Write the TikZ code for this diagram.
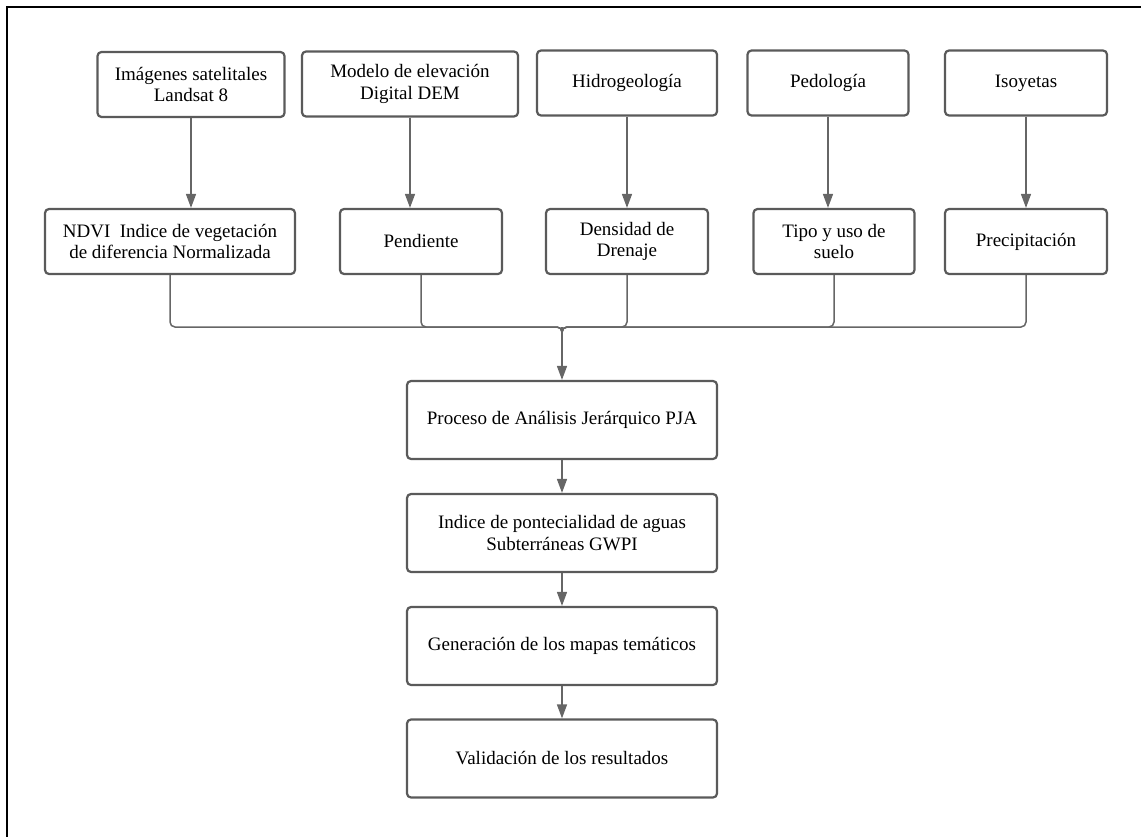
\documentclass[tikz,border=0pt]{standalone}
\usepackage{fontspec}
\setmainfont{Liberation Serif}
\newfontfamily\boxfont{Liberation Serif}
\usetikzlibrary{arrows.meta}
\definecolor{boxline}{HTML}{5A5A5A}
\definecolor{conline}{HTML}{666666}
\tikzset{
  box/.style={draw=boxline, line width=2.2pt, rounded corners=4pt, inner sep=0pt,
    align=center, font=\boxfont\fontsize{19}{21.5}\selectfont, text=black, minimum height=65pt},
  con/.style={draw=conline, line width=1.5pt},
  arr/.style={con, -{Triangle[length=14pt,width=10pt]}},
}
\begin{document}
\begin{tikzpicture}[x=1pt,y=-1pt]
\useasboundingbox (0,0) rectangle (1141,837);
\draw[black, line width=1.3pt] (7,845) -- (7,7) -- (1150,7);
% top row
\node[box, minimum width=187pt] (t1) at (191,84.5) {Imágenes satelitales\\Landsat 8};
\node[box, minimum width=216pt] (t2) at (410,84) {Modelo de elevación\\Digital DEM};
\node[box, minimum width=180pt] (t3) at (627,83) {Hidrogeología};
\node[box, minimum width=161pt] (t4) at (828,83) {Pedología};
\node[box, minimum width=162pt] (t5) at (1026,83) {Isoyetas};
% second row
\node[box, minimum width=250pt] (b1) at (170,241.5) {NDVI\ \ Indice de vegetación\\de diferencia Normalizada};
\node[box, minimum width=162pt] (b2) at (421,241.5) {Pendiente};
\node[box, minimum width=162pt] (b3) at (627,241.5) {Densidad de\\Drenaje};
\node[box, minimum width=161pt] (b4) at (834,241.5) {Tipo y uso de\\suelo};
\node[box, minimum width=162pt] (b5) at (1026,241.5) {Precipitación};
% process column
\node[box, minimum width=310pt, minimum height=78pt] (p1) at (562,420) {Proceso de Análisis Jerárquico PJA};
\node[box, minimum width=310pt, minimum height=78pt] (p2) at (562,533) {Indice de pontecialidad de aguas\\Subterráneas GWPI};
\node[box, minimum width=310pt, minimum height=78pt] (p3) at (562,646) {Generación de los mapas temáticos};
\node[box, minimum width=310pt, minimum height=78pt] (p4) at (562,758.5) {Validación de los resultados};
% top arrows
\foreach \t/\b in {t1/b1,t2/b2,t3/b3,t4/b4,t5/b5}
  \draw[arr] (\t.south) -- (\t.south |- \b.north);
% merge
\coordinate (m) at (562,327);
\foreach \b in {b1,b2,b3,b4,b5}
  \draw[con, rounded corners=5pt] (\b.south) |- (m) -- ++(0,12);
\draw[arr] (m) -- (p1.north);
\draw[arr] (p1.south) -- (p2.north);
\draw[arr] (p2.south) -- (p3.north);
\draw[arr] (p3.south) -- (p4.north);
\end{tikzpicture}
\end{document}
